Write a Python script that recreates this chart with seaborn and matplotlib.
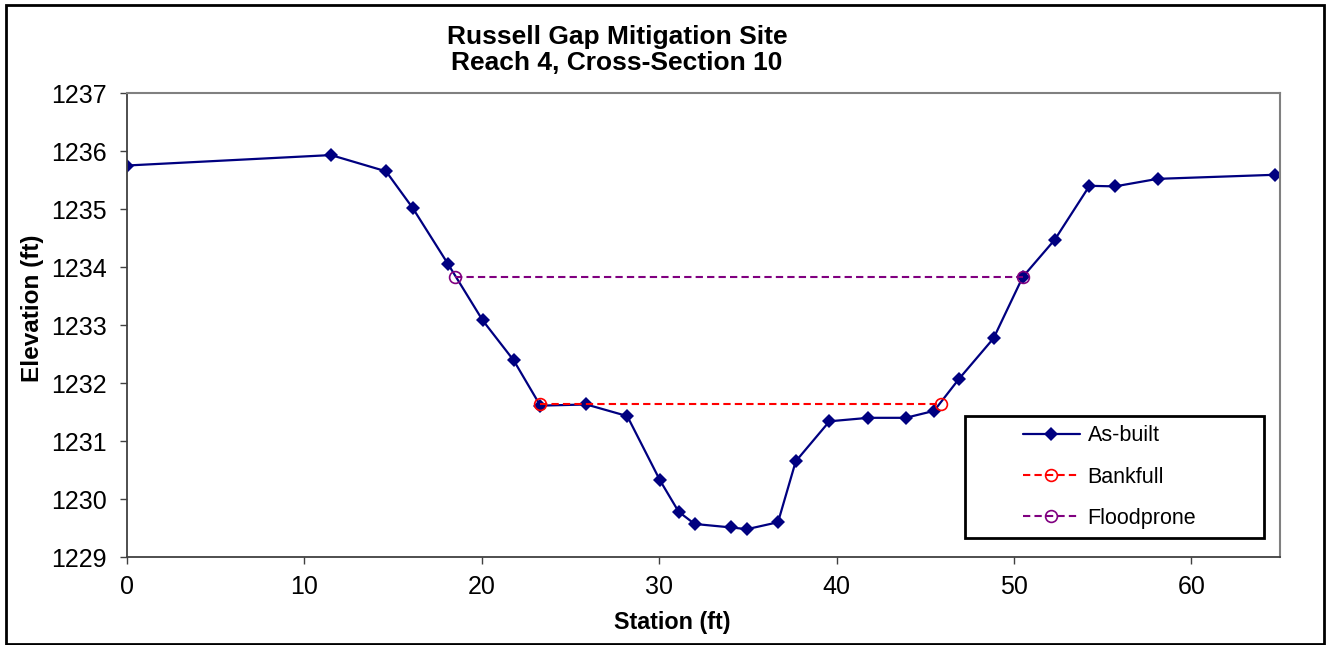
import numpy as np
import pandas as pd
import matplotlib
matplotlib.use('Agg')
import matplotlib.pyplot as plt
import seaborn as sns
from matplotlib.patches import Rectangle

# as-built cross-section survey
station = [0, 11.5, 14.6, 16.1, 18.1, 20.05, 21.8, 23.3, 25.9, 28.2, 30.05, 31.1, 32.0,
           34.05, 34.95, 36.7, 37.7, 39.6, 41.8, 43.9, 45.5, 46.9, 48.85, 50.5, 52.3,
           54.26, 55.7, 58.1, 64.7]
elevation = [1235.75, 1235.93, 1235.65, 1235.02, 1234.05, 1233.08, 1232.39, 1231.61, 1231.63,
             1231.43, 1230.32, 1229.78, 1229.57, 1229.51, 1229.48, 1229.60, 1230.65, 1231.34,
             1231.40, 1231.40, 1231.52, 1232.07, 1232.77, 1233.83, 1234.47, 1235.40, 1235.39,
             1235.52, 1235.59]

bankfull_x = [23.3, 45.9]
bankfull_y = [1231.64, 1231.64]
floodprone_x = [18.5, 50.5]
floodprone_y = [1233.83, 1233.83]

df_asbuilt = pd.DataFrame({'Station': station, 'Elevation': elevation})
df_bankfull = pd.DataFrame({'Station': bankfull_x, 'Elevation': bankfull_y})
df_flood = pd.DataFrame({'Station': floodprone_x, 'Elevation': floodprone_y})

sns.set_style('white')
plt.rcParams['font.family'] = ['Liberation Sans', 'DejaVu Sans']
plt.rcParams['text.color'] = 'black'
plt.rcParams['axes.labelcolor'] = 'black'
plt.rcParams['xtick.color'] = 'black'
plt.rcParams['ytick.color'] = 'black'

fig = plt.figure(figsize=(13.26, 6.45), dpi=100)
ax = fig.add_axes([0.0958, 0.1364, 0.8695, 0.7194])

sns.lineplot(data=df_asbuilt, x='Station', y='Elevation', sort=False, ax=ax,
             color='#000080', lw=1.6, marker='D', markersize=7.5, markeredgewidth=0,
             label='As-built')
sns.lineplot(data=df_bankfull, x='Station', y='Elevation', sort=False, ax=ax,
             color='#ff0000', lw=1.5, linestyle='--', marker='o', markersize=8.5,
             markerfacecolor='none', markeredgecolor='#ff0000', markeredgewidth=1.2,
             label='Bankfull')
sns.lineplot(data=df_flood, x='Station', y='Elevation', sort=False, ax=ax,
             color='#800080', lw=1.5, linestyle='--', marker='o', markersize=8.5,
             markerfacecolor='none', markeredgecolor='#800080', markeredgewidth=1.2,
             label='Floodprone')
for ln in ax.lines[1:]:
    ln.set_dashes([3.5, 2])

ax.set_xlim(0, 65)
ax.set_ylim(1229, 1237)
ax.set_xticks(range(0, 61, 10))
ax.set_yticks(range(1229, 1238))
ax.tick_params(axis='both', direction='out', length=5, width=1, color='#404040',
               labelsize=18, bottom=True, left=True)
ax.tick_params(axis='x', pad=8)
ax.tick_params(axis='y', pad=9.5)

for side in ['top', 'right']:
    ax.spines[side].set_color('#808080')
    ax.spines[side].set_linewidth(1.5)
for side in ['left', 'bottom']:
    ax.spines[side].set_color('#404040')
    ax.spines[side].set_linewidth(1.3)

ax.set_xlabel('Station (ft)', fontsize=16.8, fontweight='bold')
ax.set_ylabel('Elevation (ft)', fontsize=17.5, fontweight='bold')
ax.xaxis.set_label_coords(0.473, -0.117)
ax.yaxis.set_label_coords(-0.072, 0.537)

fig.text(0.4653, 0.923, 'Russell Gap Mitigation Site\nReach 4, Cross-Section 10',
         ha='center', va='center', fontsize=19, fontweight='bold', linespacing=1.12)

# legend entries without frame, box drawn separately like the spreadsheet legend
leg = ax.legend(loc='center left', bbox_to_anchor=(0.7675, 0.1724), fontsize=15.5,
                frameon=False, handlelength=2.65, borderpad=0,
                labelspacing=0.95, handletextpad=0.36)
ax.add_patch(Rectangle((0.7268, 0.0409), 0.2593, 0.263, transform=ax.transAxes,
                       fill=False, edgecolor='black', lw=2, zorder=5))

fig.patches.append(Rectangle((6 / 1326, 1 / 645), 1318 / 1326, 639 / 645,
                             transform=fig.transFigure, fill=False,
                             edgecolor='black', lw=2))

fig.savefig('out.png', dpi=100)
